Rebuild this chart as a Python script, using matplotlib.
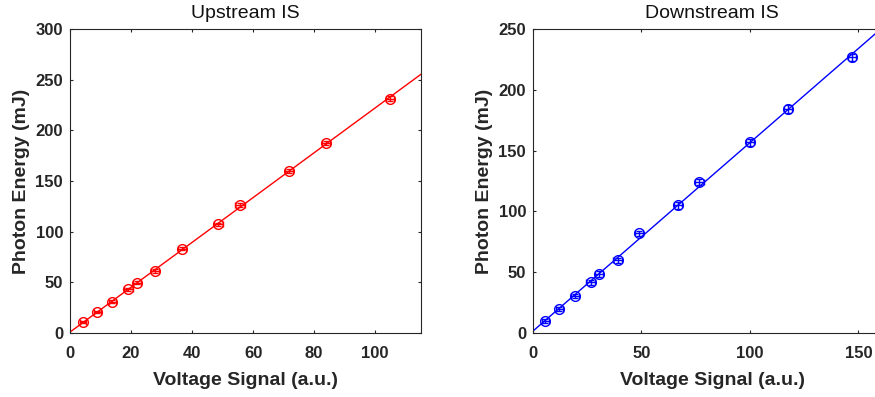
import numpy as np
import matplotlib.pyplot as plt

plt.rcParams['font.family'] = ['Liberation Sans', 'DejaVu Sans']

# upstream integrating sphere calibration
up_volt = [4.2, 9.0, 13.9, 19.1, 21.9, 27.8, 36.7, 48.6, 55.7, 71.7, 83.9, 104.9]
up_energy = [10.6, 20.4, 30.9, 43.1, 49.7, 61.2, 83.2, 107.2, 126.3, 159.9, 187.8, 231.2]
up_xerr = [1.0, 1.0, 1.2, 1.4, 1.4, 1.4, 1.3, 1.4, 1.5, 1.2, 1.3, 1.4]
up_yerr = [1.0, 1.0, 1.5, 1.5, 1.5, 1.5, 1.5, 1.5, 2.0, 2.0, 2.0, 2.5]

# downstream integrating sphere calibration
dn_volt = [5.7, 12.1, 19.2, 26.6, 30.6, 39.0, 49.0, 66.8, 76.6, 100.1, 117.6, 147.0]
dn_energy = [10.1, 19.7, 30.4, 41.7, 48.5, 59.8, 82.0, 105.0, 123.9, 156.8, 184.2, 226.8]
dn_xerr = [1.5, 1.5, 1.8, 2.0, 1.8, 2.0, 1.8, 2.0, 2.0, 1.8, 2.0, 2.0]
dn_yerr = [1.5, 1.5, 1.5, 2.0, 2.5, 2.0, 2.0, 3.0, 2.5, 3.0, 3.0, 3.0]

txt = '#262626'

fig = plt.figure(figsize=(8.75, 3.97), dpi=100)
ax1 = fig.add_axes([70/875, 64/397, 351/875, 304/397])
# right panel runs past the figure edge
ax2 = fig.add_axes([533/875, 64/397, 358/875, 304/397])


def panel(ax, x, y, xe, ye, col, xmax, ymax, title):
    p = np.polyfit(x, y, 1)
    xx = np.array([0, xmax])
    ax.plot(xx, np.polyval(p, xx), color=col, lw=1)
    ax.errorbar(x, y, xerr=xe, yerr=ye, fmt='o', mfc='none', mec=col,
                ecolor=col, ms=7, mew=1, elinewidth=1, capsize=2)
    ax.set_xlim(0, xmax)
    ax.set_ylim(0, ymax)
    ax.set_title(title, fontsize=14, color='#111111', pad=8)
    ax.set_xlabel('Voltage Signal (a.u.)', fontsize=14, fontweight='bold', color=txt,
                  labelpad=8)
    ax.set_ylabel('Photon Energy (mJ)', fontsize=14, fontweight='bold', color=txt,
                  labelpad=4)
    ax.tick_params(direction='in', top=True, right=True, length=2.5, width=0.8,
                   labelsize=12, colors=txt)
    ax.tick_params(axis='x', pad=9)
    ax.tick_params(axis='y', pad=5)
    for s in ax.spines.values():
        s.set_color(txt)
        s.set_linewidth(0.8)


panel(ax1, up_volt, up_energy, up_xerr, up_yerr, '#ff0000', 115, 300, 'Upstream IS')
ax1.set_xticks([0, 20, 40, 60, 80, 100])
ax1.set_yticks(range(0, 301, 50))
panel(ax2, dn_volt, dn_energy, dn_xerr, dn_yerr, '#0000ff', 165, 250, 'Downstream IS')
ax2.set_xticks([0, 50, 100, 150])
ax2.set_yticks(range(0, 251, 50))
ax2.tick_params(right=False)
ax2.spines['right'].set_visible(False)
for lab in ax1.get_xticklabels() + ax1.get_yticklabels() + ax2.get_xticklabels() + ax2.get_yticklabels():
    lab.set_fontweight('bold')

fig.savefig('out.png', dpi=100)
